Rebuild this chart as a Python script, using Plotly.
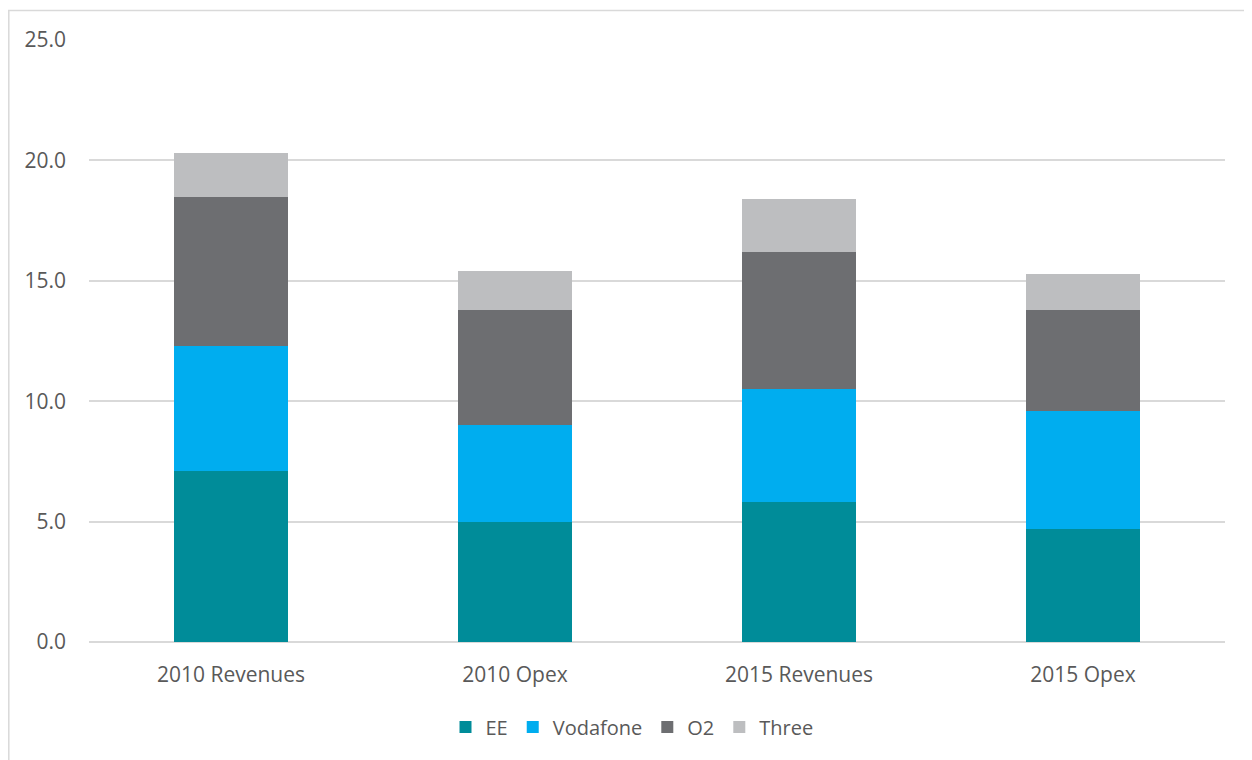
import plotly.graph_objects as go

categories = ["2010 Revenues", "2010 Opex", "2015 Revenues", "2015 Opex"]
ee = [7.1, 5.0, 5.8, 4.7]
vodafone = [5.2, 4.0, 4.7, 4.9]
o2 = [6.2, 4.8, 5.7, 4.2]
three = [1.8, 1.6, 2.2, 1.5]
y_ticks = [0, 5, 10, 15, 20, 25]

series = [("EE", ee, "#008C99"), ("Vodafone", vodafone, "#00ADEF"),
          ("O2", o2, "#6D6E71"), ("Three", three, "#BDBEC0")]

# page has an 8px body margin; work in screen coords and shift
OFF = 8
W, H = 1252 - OFF, 760 - OFF
L, R, T, B = 89 - OFF, 1225 - OFF, 40 - OFF, 642 - OFF


def px_x(p):
    return (p - OFF - L) / (R - L)


def px_y(p):
    return (B - (p - OFF)) / (B - T)


fig = go.Figure()
for name, vals, col in series:
    fig.add_trace(go.Bar(x=categories, y=vals, name=name, marker_color=col,
                         marker_line_width=0))

fig.update_layout(
    width=W, height=H,
    margin=dict(l=L, r=W - R, t=T, b=H - B),
    barmode="stack", bargap=0.6,
    plot_bgcolor="white", paper_bgcolor="white",
    font=dict(family="Open Sans", size=21, color="#595959"),
    xaxis=dict(showgrid=False, showline=False, ticks="", tickfont=dict(size=21),
               ticklabelstandoff=18),
    yaxis=dict(range=[0, 25], tickvals=y_ticks, tickformat=".1f",
               showgrid=True, gridcolor="#D9D9D9", gridwidth=2,
               zeroline=True, zerolinecolor="#D9D9D9", zerolinewidth=2,
               showline=False, ticks="", ticklabelstandoff=22),
    legend=dict(orientation="h", x=px_x(632), xanchor="center", y=px_y(727),
                yanchor="middle", font=dict(size=20), itemwidth=30,
                traceorder="normal"),
    shapes=[
        dict(type="line", xref="paper", yref="paper", x0=px_x(8), x1=px_x(1260),
             y0=px_y(10.5), y1=px_y(10.5), line=dict(color="#D9D9D9", width=1.5)),
        dict(type="line", xref="paper", yref="paper", x0=px_x(8.8), x1=px_x(8.8),
             y0=px_y(10), y1=px_y(770), line=dict(color="#D9D9D9", width=1.5)),
    ],
)

fig.write_html("out.html")
